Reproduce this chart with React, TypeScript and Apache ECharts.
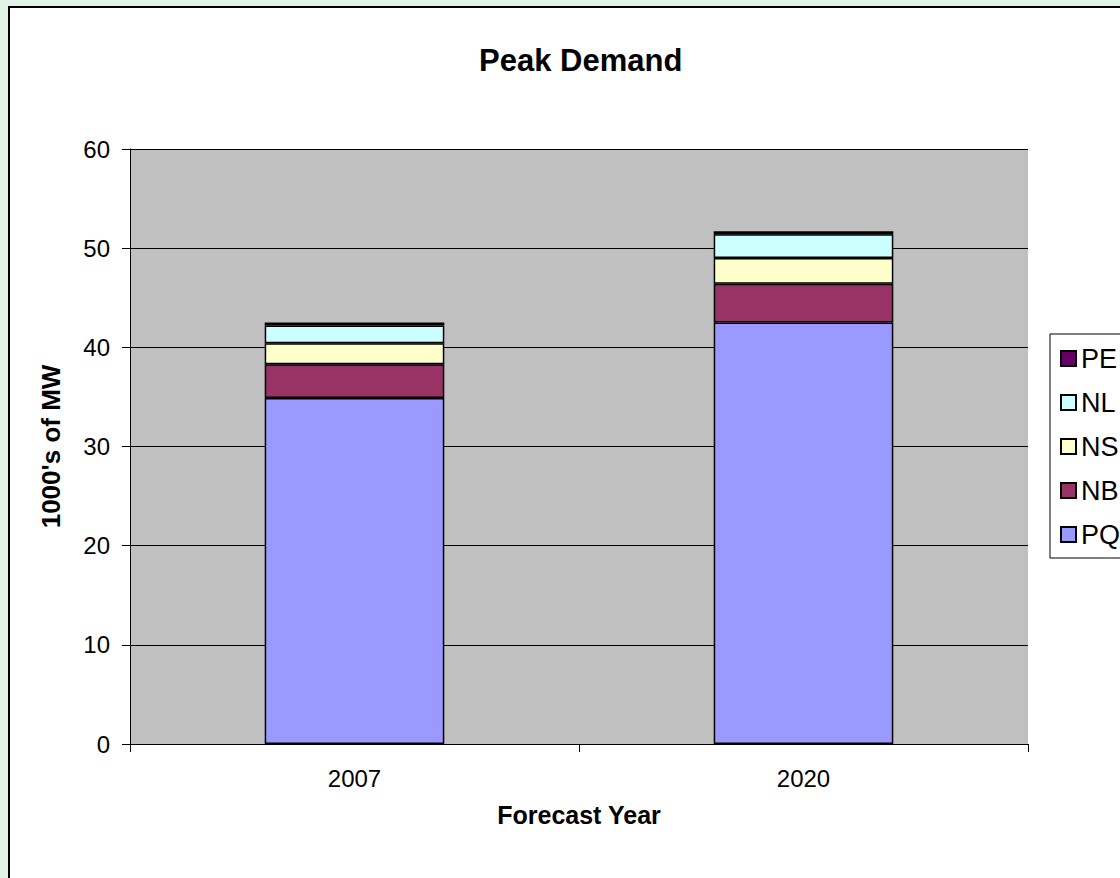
import React, { useEffect, useRef } from "react";
import * as echarts from "echarts";

const years = ["2007", "2020"];
const seriesNames = ["PQ", "NB", "NS", "NL", "PE"];
const pqValues = [34.9, 42.5];
const nbValues = [3.4, 3.9];
const nsValues = [2.1, 2.6];
const nlValues = [1.8, 2.4];
const peValues = [0.3, 0.3];
const seriesColors = ["#9999ff", "#993366", "#ffffcc", "#ccffff", "#660066"];
const legendOrder = ["PE", "NL", "NS", "NB", "PQ"];

const FONT = "Liberation Sans, Arial, sans-serif";

export default function App() {
  const ref = useRef<HTMLDivElement>(null);
  useEffect(() => {
    if (!ref.current) return;
    const chart = echarts.init(ref.current, undefined, { renderer: "svg" });
    const values = [pqValues, nbValues, nsValues, nlValues, peValues];
    chart.setOption({
      animation: false,
      backgroundColor: "#e1f2e7",
      textStyle: { fontFamily: FONT },
      graphic: [
        {
          type: "rect",
          z: -10,
          shape: { x: 9, y: 7, width: 1200, height: 1000 },
          style: { fill: "#ffffff", stroke: "#000000", lineWidth: 2 },
          silent: true,
        },
      ],
      title: {
        text: "Peak Demand",
        left: 474,
        top: 40,
        textStyle: { fontSize: 31, fontWeight: "bold", color: "#000", fontFamily: FONT },
      },
      legend: {
        orient: "vertical",
        left: 1050,
        top: 334,
        data: legendOrder,
        icon: "rect",
        itemWidth: 15,
        itemHeight: 15,
        itemGap: 17,
        padding: [11, 40, 10, 10],
        borderColor: "#000",
        borderWidth: 1,
        textStyle: { fontSize: 27, color: "#000", lineHeight: 25, fontFamily: FONT },
      },
      grid: { left: 130, right: 92, top: 149, bottom: 134, show: true, backgroundColor: "#c0c0c0", borderWidth: 0 },
      xAxis: {
        type: "category",
        data: years,
        name: "Forecast Year",
        nameLocation: "middle",
        nameGap: 58,
        nameTextStyle: { fontSize: 25, fontWeight: "bold", color: "#000", fontFamily: FONT },
        axisLine: { lineStyle: { color: "#000", width: 1 } },
        axisTick: { show: true, length: 8, lineStyle: { color: "#000" } },
        axisLabel: { fontSize: 24, color: "#000", margin: 22, fontFamily: FONT },
      },
      yAxis: {
        type: "value",
        min: 0,
        max: 60,
        interval: 10,
        name: "1000's of MW",
        nameLocation: "middle",
        nameRotate: 90,
        nameGap: 66,
        nameTextStyle: { fontSize: 26, fontWeight: "bold", color: "#000", fontFamily: FONT },
        axisLine: { show: true, lineStyle: { color: "#000", width: 1 } },
        axisTick: { show: true, length: 8, lineStyle: { color: "#000" } },
        axisLabel: { fontSize: 24, color: "#000", margin: 20, fontFamily: FONT },
        splitLine: { show: true, lineStyle: { color: "#000", width: 1 } },
      },
      series: seriesNames.map((name, i) => ({
        name,
        type: "bar",
        stack: "total",
        barWidth: "40%",
        data: values[i],
        itemStyle: { color: seriesColors[i], borderColor: "#000", borderWidth: 1.5 },
      })),
    });
    return () => chart.dispose();
  }, []);
  return (
    <div
      ref={ref}
      style={{ position: "fixed", left: 0, top: 0, width: 1120, height: 878 }}
    />
  );
}
